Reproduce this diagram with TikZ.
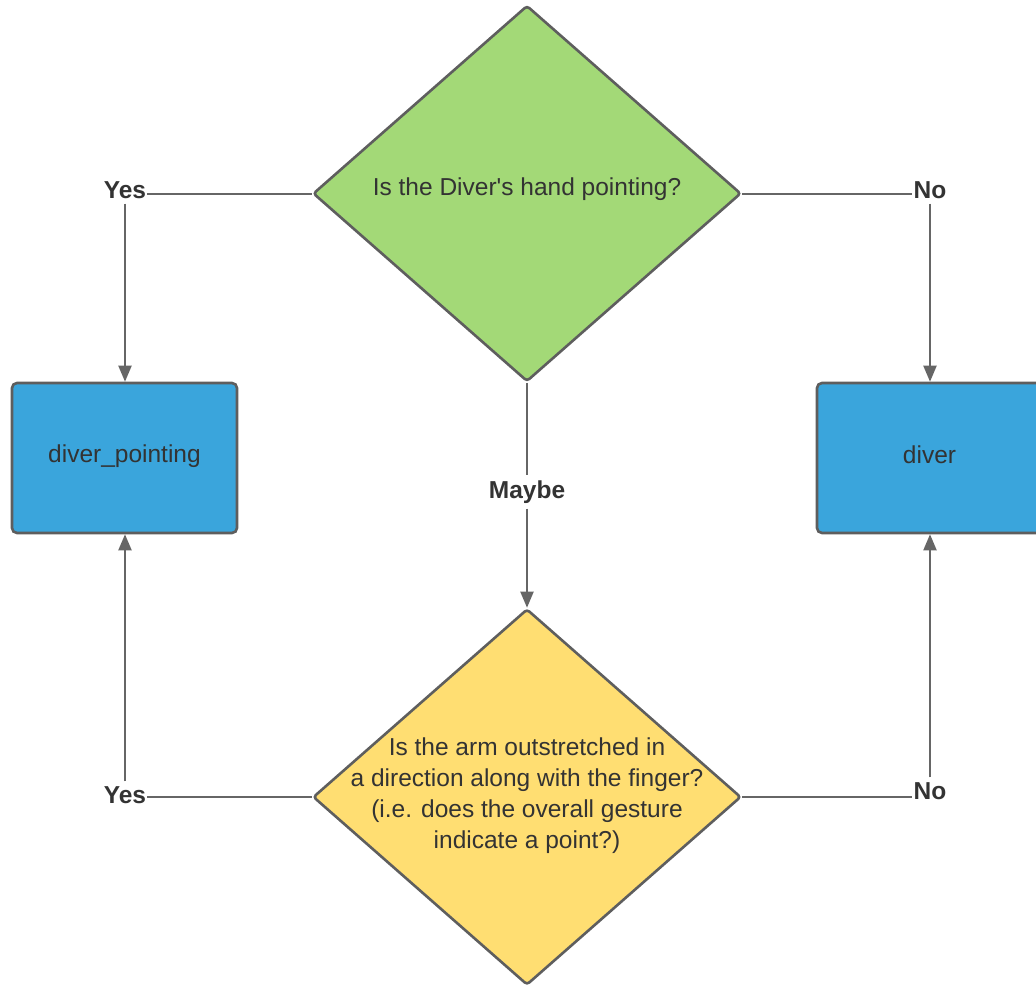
\documentclass[tikz,border=0pt]{standalone}
\usepackage{fontspec}
\setmainfont{Liberation Sans}
\usetikzlibrary{shapes.geometric,arrows.meta}
\definecolor{dgreen}{HTML}{A3D977}
\definecolor{dblue}{HTML}{3AA5DC}
\definecolor{dyellow}{HTML}{FFDE72}
\definecolor{edge}{HTML}{5E5E5E}
\definecolor{lineclr}{HTML}{666666}
\definecolor{txtclr}{HTML}{333333}
\begin{document}
\begin{tikzpicture}[x=1pt,y=-1pt,
  dia/.style={diamond, draw=edge, line width=2.6pt, rounded corners=3pt,
    minimum width=428pt, minimum height=376pt, inner sep=0pt},
  boxnode/.style={rectangle, draw=edge, line width=2.6pt, rounded corners=5pt, fill=dblue,
    minimum width=225pt, minimum height=150pt, inner sep=0pt},
  txt/.style={text=txtclr, font=\fontsize{24.5}{31}\selectfont, align=center, inner sep=0pt},
  lbl/.style={text=txtclr, font=\fontsize{24.5}{31}\selectfont\bfseries, fill=white,
    inner xsep=1pt, inner ysep=5pt},
  conn/.style={draw=lineclr, line width=2pt},
  arr/.style={conn, -{Triangle[length=16pt,width=13pt]}}
]
\useasboundingbox (0,0) rectangle (1036,985);
\fill[white] (0,0) rectangle (1036,985);

\node[dia, fill=dgreen] (d1) at (527,193.5) {};
\node[txt] (q1) at (527,189.5) {Is the Diver\textquotesingle s hand pointing?};

\node[dia, fill=dyellow] (d2) at (527,797) {};
\node[txt] (q2) at (527,796) {Is the arm outstretched in\\a direction along with the finger?\\(i.e. does the overall gesture\\indicate a point?)};

\node[boxnode] (b1) at (124.5,458) {};
\node[txt] (t1) at (124.5,456) {diver\_pointing};
\node[boxnode] (b2) at (929.5,458) {};
\node[txt] (t2) at (929.5,455) {diver};

\node[lbl] (yes1) at (125,190) {Yes};
\node[lbl] (no1) at (930,190) {No};
\node[lbl] (maybe) at (527,492) {Maybe};
\node[lbl] (yes2) at (125,795) {Yes};
\node[lbl] (no2) at (930,791) {No};

\draw[conn] (d1.west) -- (d1.west -| yes1.east);
\draw[arr] (yes1.south) -- (yes1.south |- b1.north);
\draw[conn] (d1.east) -- (d1.east -| no1.west);
\draw[arr] (no1.south) -- (no1.south |- b2.north);
\draw[conn] (d1.south) -- (maybe.north);
\draw[arr] (maybe.south) -- (d2.north);
\draw[conn] (d2.west) -- (d2.west -| yes2.east);
\draw[arr] (yes2.north) -- (yes2.north |- b1.south);
\draw[conn] (d2.east) -- (d2.east -| no2.west);
\draw[arr] (no2.north) -- (no2.north |- b2.south);
\end{tikzpicture}
\end{document}
